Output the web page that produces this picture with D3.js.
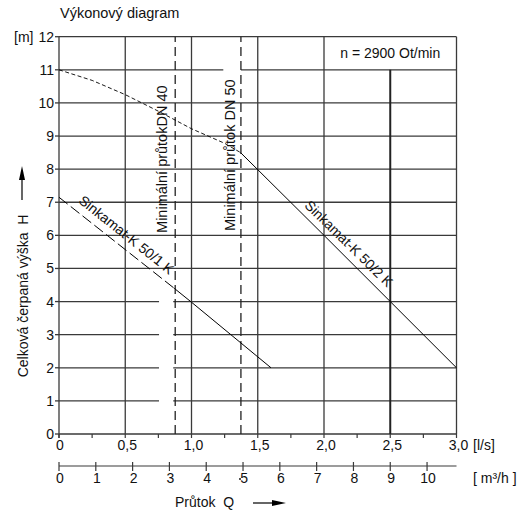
<!DOCTYPE html>
<html>
<head>
<meta charset="utf-8">
<script src="https://cdn.jsdelivr.net/npm/d3@7"></script>
<style>
    body { margin: 0; background: #fff; }
    svg text { font-family: "Liberation Sans", Arial, sans-serif; fill: #111; }
</style>
</head>
<body>
<div id="chart"></div>
<script>
// Flow axis ticks (l/s) and secondary axis (m3/h)
const flowTicks = [0, 0.5, 1.0, 1.5, 2.0, 2.5, 3.0];
const flowTickLabels = ['0', '0,5', '1,0', '1,5', '2,0', '2,5', '3,0'];
const flowMinorTicks = [0, 0.25, 0.5, 0.75, 1.0, 1.25, 1.5, 1.75, 2.0, 2.25, 2.5, 2.75, 3.0];
const m3hTicks = [0, 1, 2, 3, 4, 5, 6, 7, 8, 9, 10];
const headTicks = [0, 1, 2, 3, 4, 5, 6, 7, 8, 9, 10, 11, 12];

// Pump curves: [flow l/s, head m]
const k502Dashed = [[0, 11.0], [0.25, 10.68], [0.5, 10.25], [0.75, 9.75], [1.0, 9.22], [1.25, 8.78], [1.37, 8.5]];
const k502Solid = [[1.37, 8.5], [2.0, 6.0], [2.5, 4.0], [3.0, 2.0]];
const k501Dashed = [[0, 7.15], [0.5, 5.57], [0.87, 4.4]];
const k501Solid = [[0.87, 4.4], [1.0, 3.98], [1.6, 2.0]];

// Minimum flow lines (l/s)
const minFlows = [
    { q: 0.877, label: 'Minimální průtokDN 40' },
    { q: 1.373, label: 'Minimální průtok DN 50' }
];

function drawChart() {
    const W = 521, H = 514;
    const svg = d3.select('#chart').append('svg')
        .attr('width', W)
        .attr('height', H);

    const x = d3.scaleLinear().domain([0, 3]).range([59, 456.5]);
    const y = d3.scaleLinear().domain([0, 12]).range([434, 36.7]);
    const xm = d3.scaleLinear().domain([0, 10.8]).range([59, 456.5]);

    const gridColor = '#3a3a3a';

    // horizontal grid lines (some are broken where the plate left room)
    const grid = svg.append('g');
    headTicks.forEach(h => {
        let segs = [[0, 3]];
        if (h >= 1 && h <= 4) segs = [[0, 0.755], [0.862, 3]];
        if (h === 11) segs = [[0, 1.24], [1.373, 3]];
        segs.forEach(s => {
            grid.append('line')
                .attr('x1', x(s[0])).attr('x2', x(s[1]))
                .attr('y1', y(h)).attr('y2', y(h))
                .attr('stroke', gridColor)
                .attr('stroke-width', 1.3);
        });
    });

    // vertical grid lines
    flowTicks.forEach(q => {
        grid.append('line')
            .attr('x1', x(q)).attr('x2', x(q))
            .attr('y1', y(0) + (q === 0 ? 4 : 0))
            .attr('y2', y(q === 2.5 ? 11 : 12))
            .attr('stroke', q === 2.5 ? '#222' : gridColor)
            .attr('stroke-width', q === 2.5 ? 2 : 1.3);
    });

    // y ticks and labels
    headTicks.forEach(h => {
        svg.append('line')
            .attr('x1', x(0) - 4).attr('x2', x(0))
            .attr('y1', y(h)).attr('y2', y(h))
            .attr('stroke', gridColor).attr('stroke-width', 1.3);
        svg.append('text')
            .attr('x', 54).attr('y', y(h) + 5)
            .attr('text-anchor', 'end')
            .attr('font-size', 14)
            .text(h);
    });
    svg.append('text')
        .attr('x', 14).attr('y', y(12) + 5)
        .attr('font-size', 14)
        .text('[m]');

    // x ticks (l/s)
    flowMinorTicks.forEach(q => {
        svg.append('line')
            .attr('x1', x(q)).attr('x2', x(q))
            .attr('y1', y(0)).attr('y2', y(0) + 4)
            .attr('stroke', gridColor).attr('stroke-width', 1.2);
    });
    flowTicks.forEach((q, i) => {
        svg.append('text')
            .attr('x', x(q) + (i === 0 ? 1 : 2))
            .attr('y', 449.5)
            .attr('text-anchor', 'middle')
            .attr('font-size', 14)
            .text(flowTickLabels[i]);
    });
    svg.append('text')
        .attr('x', 473).attr('y', 449.5)
        .attr('font-size', 14)
        .text('[l/s]');

    // secondary axis (m3/h)
    const axY = 466;
    svg.append('line')
        .attr('x1', xm(0)).attr('x2', xm(10.8))
        .attr('y1', axY).attr('y2', axY)
        .attr('stroke', gridColor).attr('stroke-width', 1.2);
    m3hTicks.forEach(v => {
        svg.append('line')
            .attr('x1', xm(v)).attr('x2', xm(v))
            .attr('y1', axY - 4).attr('y2', axY + 5)
            .attr('stroke', gridColor).attr('stroke-width', 1.2);
        svg.append('text')
            .attr('x', xm(v) + 1).attr('y', 483)
            .attr('text-anchor', 'middle')
            .attr('font-size', 14)
            .text(v);
    });
    svg.append('text')
        .attr('x', 473).attr('y', 483)
        .attr('font-size', 14)
        .attr('xml:space', 'preserve')
        .text('[ m³/h ]');

    // minimum flow dashed verticals + labels
    minFlows.forEach(m => {
        svg.append('line')
            .attr('x1', x(m.q)).attr('x2', x(m.q))
            .attr('y1', y(0)).attr('y2', y(12))
            .attr('stroke', '#222')
            .attr('stroke-width', 1.3)
            .attr('stroke-dasharray', '9,5');
    });
    const minLabelPos = [[0.778, 8.3], [1.292, 8.42]];
    minFlows.forEach((m, i) => {
        svg.append('text')
            .attr('transform', `translate(${x(minLabelPos[i][0])},${y(minLabelPos[i][1])}) rotate(-90)`)
            .attr('text-anchor', 'middle')
            .attr('dy', '0.35em')
            .attr('font-size', 14.5)
            .text(m.label);
    });

    // pump curves
    const line = d3.line().x(d => x(d[0])).y(d => y(d[1]));
    svg.append('path').datum(k502Dashed)
        .attr('d', line).attr('fill', 'none')
        .attr('stroke', '#000').attr('stroke-width', 0.9)
        .attr('stroke-dasharray', '4,2.5');
    svg.append('path').datum(k502Solid)
        .attr('d', line).attr('fill', 'none')
        .attr('stroke', '#000').attr('stroke-width', 1);
    svg.append('path').datum(k501Dashed)
        .attr('d', line).attr('fill', 'none')
        .attr('stroke', '#000').attr('stroke-width', 1)
        .attr('stroke-dasharray', '11,4');
    svg.append('path').datum(k501Solid)
        .attr('d', line).attr('fill', 'none')
        .attr('stroke', '#000').attr('stroke-width', 1);

    // curve labels, set just above their lines
    svg.append('text')
        .attr('transform', `translate(${x(0.5)},${y(5.97)}) rotate(38.5) translate(0,-2)`)
        .attr('text-anchor', 'middle')
        .attr('dy', '0.35em')
        .attr('font-size', 14)
        .text('Sinkamat-K 50/1 K');
    svg.append('text')
        .attr('transform', `translate(${x(2.177)},${y(5.71)}) rotate(44.4) translate(0,-2)`)
        .attr('text-anchor', 'middle')
        .attr('dy', '0.35em')
        .attr('font-size', 14)
        .text('Sinkamat-K 50/2 K');

    // speed note
    svg.append('text')
        .attr('x', (x(2.0) + x(3.0)) / 2).attr('y', y(11.5) + 5)
        .attr('text-anchor', 'middle')
        .attr('font-size', 14)
        .text('n = 2900 Ot/min');

    // title
    svg.append('text')
        .attr('x', 60).attr('y', 18)
        .attr('font-size', 14.5)
        .text('Výkonový diagram');

    // y-axis title with arrow
    svg.append('text')
        .attr('transform', 'translate(28,296) rotate(-90)')
        .attr('text-anchor', 'middle')
        .attr('font-size', 14)
        .attr('xml:space', 'preserve')
        .text('Celková čerpaná výška  H');
    svg.append('line')
        .attr('x1', 22).attr('x2', 22)
        .attr('y1', 200).attr('y2', 176)
        .attr('stroke', '#000').attr('stroke-width', 1.2);
    svg.append('path')
        .attr('d', 'M22,166 L19,180 L25,180 Z')
        .attr('fill', '#000');

    // x-axis title with arrow
    svg.append('text')
        .attr('x', 175).attr('y', 507)
        .attr('font-size', 14)
        .attr('xml:space', 'preserve')
        .text('Průtok  Q');
    svg.append('circle')
        .attr('cx', 240).attr('cy', 479).attr('r', 0.9)
        .attr('fill', '#000');
    svg.append('line')
        .attr('x1', 253).attr('x2', 274)
        .attr('y1', 503).attr('y2', 503)
        .attr('stroke', '#000').attr('stroke-width', 1.2);
    svg.append('path')
        .attr('d', 'M286,503 L272,500 L272,506 Z')
        .attr('fill', '#000');
}

drawChart();
</script>
</body>
</html>
